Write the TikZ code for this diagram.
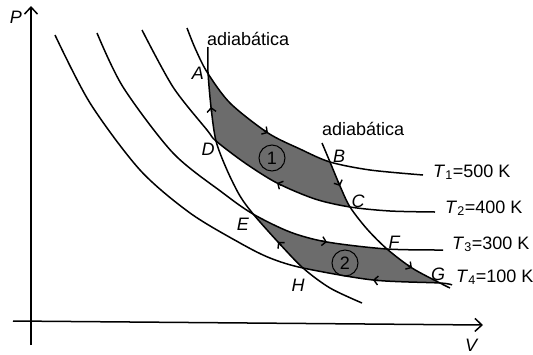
\documentclass[tikz,border=0pt]{standalone}
\usepackage{fontspec}
\setmainfont{Liberation Sans}
\usetikzlibrary{arrows.meta}
\definecolor{cyclegray}{RGB}{108,108,108}
\begin{document}
\begin{tikzpicture}[x=1pt,y=-1pt,
  curve/.style={line width=1.5pt,line join=round},
  axisline/.style={line width=1.5pt,-{Straight Barb[length=7pt,width=13pt,line width=1.5pt]}},
  flow/.style={line width=1.5pt,-{Straight Barb[length=4pt,width=9pt,line width=1.4pt]}},
  lbl/.style={font=\fontsize{18}{21}\selectfont,inner sep=0pt},
  ilbl/.style={font=\fontsize{18}{21}\selectfont\itshape,inner sep=0pt},
  numcircle/.style={circle,draw,line width=1pt,minimum size=26pt,inner sep=0pt,font=\fontsize{18}{21}\selectfont}]
\useasboundingbox (0,0) rectangle (533,354);

% --- filled cycle 1 (ABCD)
\begin{scope}
\clip plot[smooth] coordinates {(187,28) (195,48) (207,72) (230,103) (268,133) (300,149) (330,162) (370,170) (423,175)} -- (423,400) -- (187,400) -- cycle;
\clip plot[smooth] coordinates {(142,30) (173,87) (207,130) (216,141) (245,163) (277,183) (315,199) (350,207) (390,211) (435,212)} -- (435,0) -- (142,0) -- cycle;
\clip plot[smooth] coordinates {(208,47) (208,72) (211,107) (216,141) (227,170) (240,196) (254,215) (278,242) (303,268) (330,288) (362,303)} -- (600,303) -- (600,0) -- (208,0) -- cycle;
\clip plot[smooth] coordinates {(322,143) (330,162) (340,186) (350,207) (367,229) (387,249) (412,268) (440,283) (450,288)} -- (0,288) -- (0,0) -- (322,0) -- cycle;
\fill[cyclegray] (0,0) rectangle (533,354);
\end{scope}

% --- filled cycle 2 (EFGH)
\begin{scope}
\clip plot[smooth] coordinates {(97,33) (123,87) (173,153) (223,193) (253,214) (290,232) (327,242) (387,249) (443,250)} -- (443,400) -- (97,400) -- cycle;
\clip plot[smooth] coordinates {(55,35) (90,103) (140,170) (190,213) (240,243) (270,258) (303,268) (373,280) (440,283) (452,285)} -- (452,0) -- (55,0) -- cycle;
\clip plot[smooth] coordinates {(208,47) (208,72) (211,107) (216,141) (227,170) (240,196) (254,215) (278,242) (303,268) (330,288) (362,303)} -- (600,303) -- (600,0) -- (208,0) -- cycle;
\clip plot[smooth] coordinates {(322,143) (330,162) (340,186) (350,207) (367,229) (387,249) (412,268) (440,283) (450,288)} -- (0,288) -- (0,0) -- (322,0) -- cycle;
\fill[cyclegray] (0,0) rectangle (533,354);
\end{scope}

% --- axes
\coordinate (pbot) at (31,345);
\coordinate (ptop) at (31,6);
\coordinate (vleft) at (13,321);
\coordinate (vright) at (483,325);
\draw[axisline] (pbot) -- (ptop);
\draw[axisline] (vleft) -- (vright);
\node[ilbl] (plabel) at (16,17) {P};
\node[ilbl] (vlabel) at (471,345) {V};

% --- isotherms
\draw[curve] plot[smooth] coordinates {(187,28) (195,48) (207,72) (230,103) (268,133) (300,149) (330,162) (370,170) (423,175)};
\draw[curve] plot[smooth] coordinates {(142,30) (173,87) (207,130) (216,141) (245,163) (277,183) (315,199) (350,207) (390,211) (435,212)};
\draw[curve] plot[smooth] coordinates {(97,33) (123,87) (173,153) (223,193) (253,214) (290,232) (327,242) (387,249) (443,250)};
\draw[curve] plot[smooth] coordinates {(55,35) (90,103) (140,170) (190,213) (240,243) (270,258) (303,268) (373,280) (440,283) (452,285)};

% --- adiabats
\draw[curve] plot[smooth] coordinates {(208,47) (208,72) (211,107) (216,141) (227,170) (240,196) (254,215) (278,242) (303,268) (330,288) (362,303)};
\draw[curve] plot[smooth] coordinates {(322,143) (330,162) (340,186) (350,207) (367,229) (387,249) (412,268) (440,283) (450,288)};

% --- direction arrows
\draw[flow] (263.8,130.3) -- (268,133);
\draw[flow] (338,181.5) -- (340,186);
\draw[flow] (281.4,185.3) -- (277,183);
\draw[flow] (211.6,112) -- (211,107);
\draw[flow] (322,241.1) -- (327,242);
\draw[flow] (407.8,265.3) -- (412,268);
\draw[flow] (378,280.5) -- (373,280);
\draw[flow] (281.4,245.7) -- (278,242);

% --- labels
\node[lbl,anchor=base west] (ad1) at (207,45) {adiabática};
\node[lbl,anchor=base west] (ad2) at (322,135) {adiabática};
\node[lbl,anchor=base west] (t1) at (433,177) {\textit{T}\textsubscript{1}=500 K};
\node[lbl,anchor=base west] (t2) at (445,213) {\textit{T}\textsubscript{2}=400 K};
\node[lbl,anchor=base west] (t3) at (452,249) {\textit{T}\textsubscript{3}=300 K};
\node[lbl,anchor=base west] (t4) at (456,282) {\textit{T}\textsubscript{4}=100 K};

\node[ilbl] (la) at (198,73) {A};
\node[ilbl] (lb) at (339,156) {B};
\node[ilbl] (lc) at (358,201) {C};
\node[ilbl] (ld) at (208,149) {D};
\node[ilbl] (le) at (243,224) {E};
\node[ilbl] (lf) at (394,242) {F};
\node[ilbl] (lg) at (438,274) {G};
\node[ilbl] (lh) at (298,285) {H};

\node[numcircle] (c1) at (272,158) {1};
\node[numcircle] (c2) at (345,263) {2};
\end{tikzpicture}
\end{document}
